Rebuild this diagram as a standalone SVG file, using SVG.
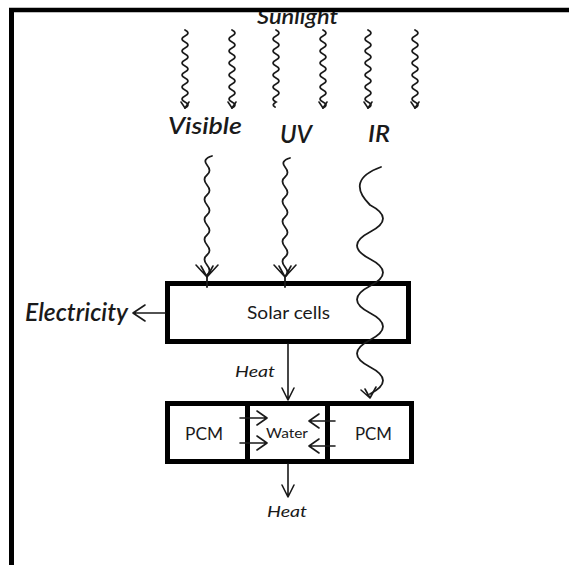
<svg xmlns="http://www.w3.org/2000/svg" width="569" height="565" viewBox="0 0 569 565">
<style>
.lbl{font-family:Lato,"Liberation Sans",sans-serif;fill:#1a1a1a}
.it{font-style:italic}
.b{font-weight:600}
.box{fill:#fff;stroke:#000;stroke-width:5}
.wave{fill:none;stroke:#1a1a1a;stroke-width:1.8;stroke-linecap:round}
.ln{fill:none;stroke:#1a1a1a;stroke-width:1.6;stroke-linecap:round;stroke-linejoin:round}
</style>
<rect width="569" height="565" fill="#fff"/>
<text class="lbl it b" x="257" y="24" font-size="21" textLength="81" lengthAdjust="spacingAndGlyphs">Sunlight</text>
<g id="frame">
<line x1="9" y1="10" x2="569" y2="10" stroke="#000" stroke-width="4.5"/>
<line x1="11.5" y1="8" x2="11.5" y2="565" stroke="#000" stroke-width="5"/>
</g>
<g id="sunlight-rays">
<path class="wave" d="M185 30 q6 3 0 6 t0 6 t0 6 t0 6 t0 6 t0 6 t0 6 t0 6 t0 6 t0 6 t0 6 t0 6 t0 6"/>
<path class="ln" d="M181 102 l4 6 l4 -6"/>
<path class="wave" d="M232 30 q6 3 0 6 t0 6 t0 6 t0 6 t0 6 t0 6 t0 6 t0 6 t0 6 t0 6 t0 6 t0 6 t0 6"/>
<path class="ln" d="M228 102 l4 6 l4 -6"/>
<path class="wave" d="M276 30 q6 3 0 6 t0 6 t0 6 t0 6 t0 6 t0 6 t0 6 t0 6 t0 6 t0 6 t0 6 t0 6 q-5 3 -1 5"/>
<path class="wave" d="M323 30 q6 3 0 6 t0 6 t0 6 t0 6 t0 6 t0 6 t0 6 t0 6 t0 6 t0 6 t0 6 t0 6 t0 6"/>
<path class="ln" d="M319 102 l4 6 l4 -6"/>
<path class="wave" d="M368 30 q6 3 0 6 t0 6 t0 6 t0 6 t0 6 t0 6 t0 6 t0 6 t0 6 t0 6 t0 6 t0 6 t0 6"/>
<path class="ln" d="M364 102 l4 6 l4 -6"/>
<path class="wave" d="M415 30 q6 3 0 6 t0 6 t0 6 t0 6 t0 6 t0 6 t0 6 t0 6 t0 6 t0 6 t0 6 t0 6 t0 6"/>
<path class="ln" d="M411 102 l4 6 l4 -6"/>
</g>
<g id="labels">
<text class="lbl it b" x="168" y="134" font-size="22" textLength="74" lengthAdjust="spacingAndGlyphs">Visible</text>
<text class="lbl it b" x="280" y="143" font-size="24" textLength="32" lengthAdjust="spacingAndGlyphs">UV</text>
<text class="lbl it b" x="368" y="142" font-size="22" textLength="22" lengthAdjust="spacingAndGlyphs">IR</text>
</g>
<g id="solar-cells">
<rect class="box" x="167.5" y="283.5" width="241" height="58"/>
<text class="lbl" x="247" y="319" font-size="17.5" textLength="83" lengthAdjust="spacingAndGlyphs">Solar cells</text>
</g>
<g id="pcm-water">
<rect class="box" x="167.5" y="403.5" width="244" height="58"/>
<line x1="247.5" y1="403" x2="247.5" y2="462" stroke="#000" stroke-width="5"/>
<line x1="327.5" y1="403" x2="327.5" y2="462" stroke="#000" stroke-width="5"/>
<text class="lbl" x="185" y="440" font-size="17" textLength="38" lengthAdjust="spacingAndGlyphs">PCM</text>
<text class="lbl" x="266" y="438" font-size="14" textLength="42" lengthAdjust="spacingAndGlyphs">Water</text>
<text class="lbl" x="355" y="440" font-size="17" textLength="37" lengthAdjust="spacingAndGlyphs">PCM</text>
</g>
<g id="electricity">
<text class="lbl it b" x="25" y="321" font-size="24" textLength="103" lengthAdjust="spacingAndGlyphs">Electricity</text>
</g>
<g id="heat-labels">
<text class="lbl it" x="235" y="377" font-size="15.5" textLength="40" lengthAdjust="spacingAndGlyphs">Heat</text>
<text class="lbl it" x="267" y="517" font-size="15.5" textLength="40" lengthAdjust="spacingAndGlyphs">Heat</text>
</g>
<g id="connectors">
<path class="wave" d="M212 156 q-10 3 -5 9 t0 10 t0 10 t0 10 t0 10 t0 10 t0 10 t0 10 t0 10 t0 10 t0 10 t0 10 l0 12"/>
<path class="ln" d="M196 265 l11 12 l11 -12 M201 266 l6 11 l6 -11"/>
<path class="wave" d="M290 158 q-10 3 -5 9 t0 10 t0 10 t0 10 t0 10 t0 10 t0 10 t0 10 t0 10 t0 10 t0 10 t0 10 l0 10"/>
<path class="ln" d="M274 265 l11 12 l11 -12 M279 266 l6 11 l6 -11"/>
<path class="wave" d="M381 167 Q345 180 370 205 q26 13.5 0 27 t0 27 t0 27 t0 27 t0 27 t0 27 t0 27"/>
<path class="ln" d="M361 390 l9 8 l6 -11 M365 389 l5 9"/>
<path class="ln" d="M165 313 L133 313 M145 305 L133 313 L145 321"/>
<path class="ln" d="M288 344 L288 400 M282 388 L288 400 L294 388"/>
<path class="ln" d="M240 418 L267 418 M257 411 L267 418 L257 425"/>
<path class="ln" d="M240 443 L267 443 M257 436 L267 443 L257 450"/>
<path class="ln" d="M335 421 L309 421 M319 414 L309 421 L319 428"/>
<path class="ln" d="M335 446 L309 446 M319 439 L309 446 L319 453"/>
<path class="ln" d="M288 464 L288 497 M282 485 L288 497 L294 485"/>
</g>
</svg>
